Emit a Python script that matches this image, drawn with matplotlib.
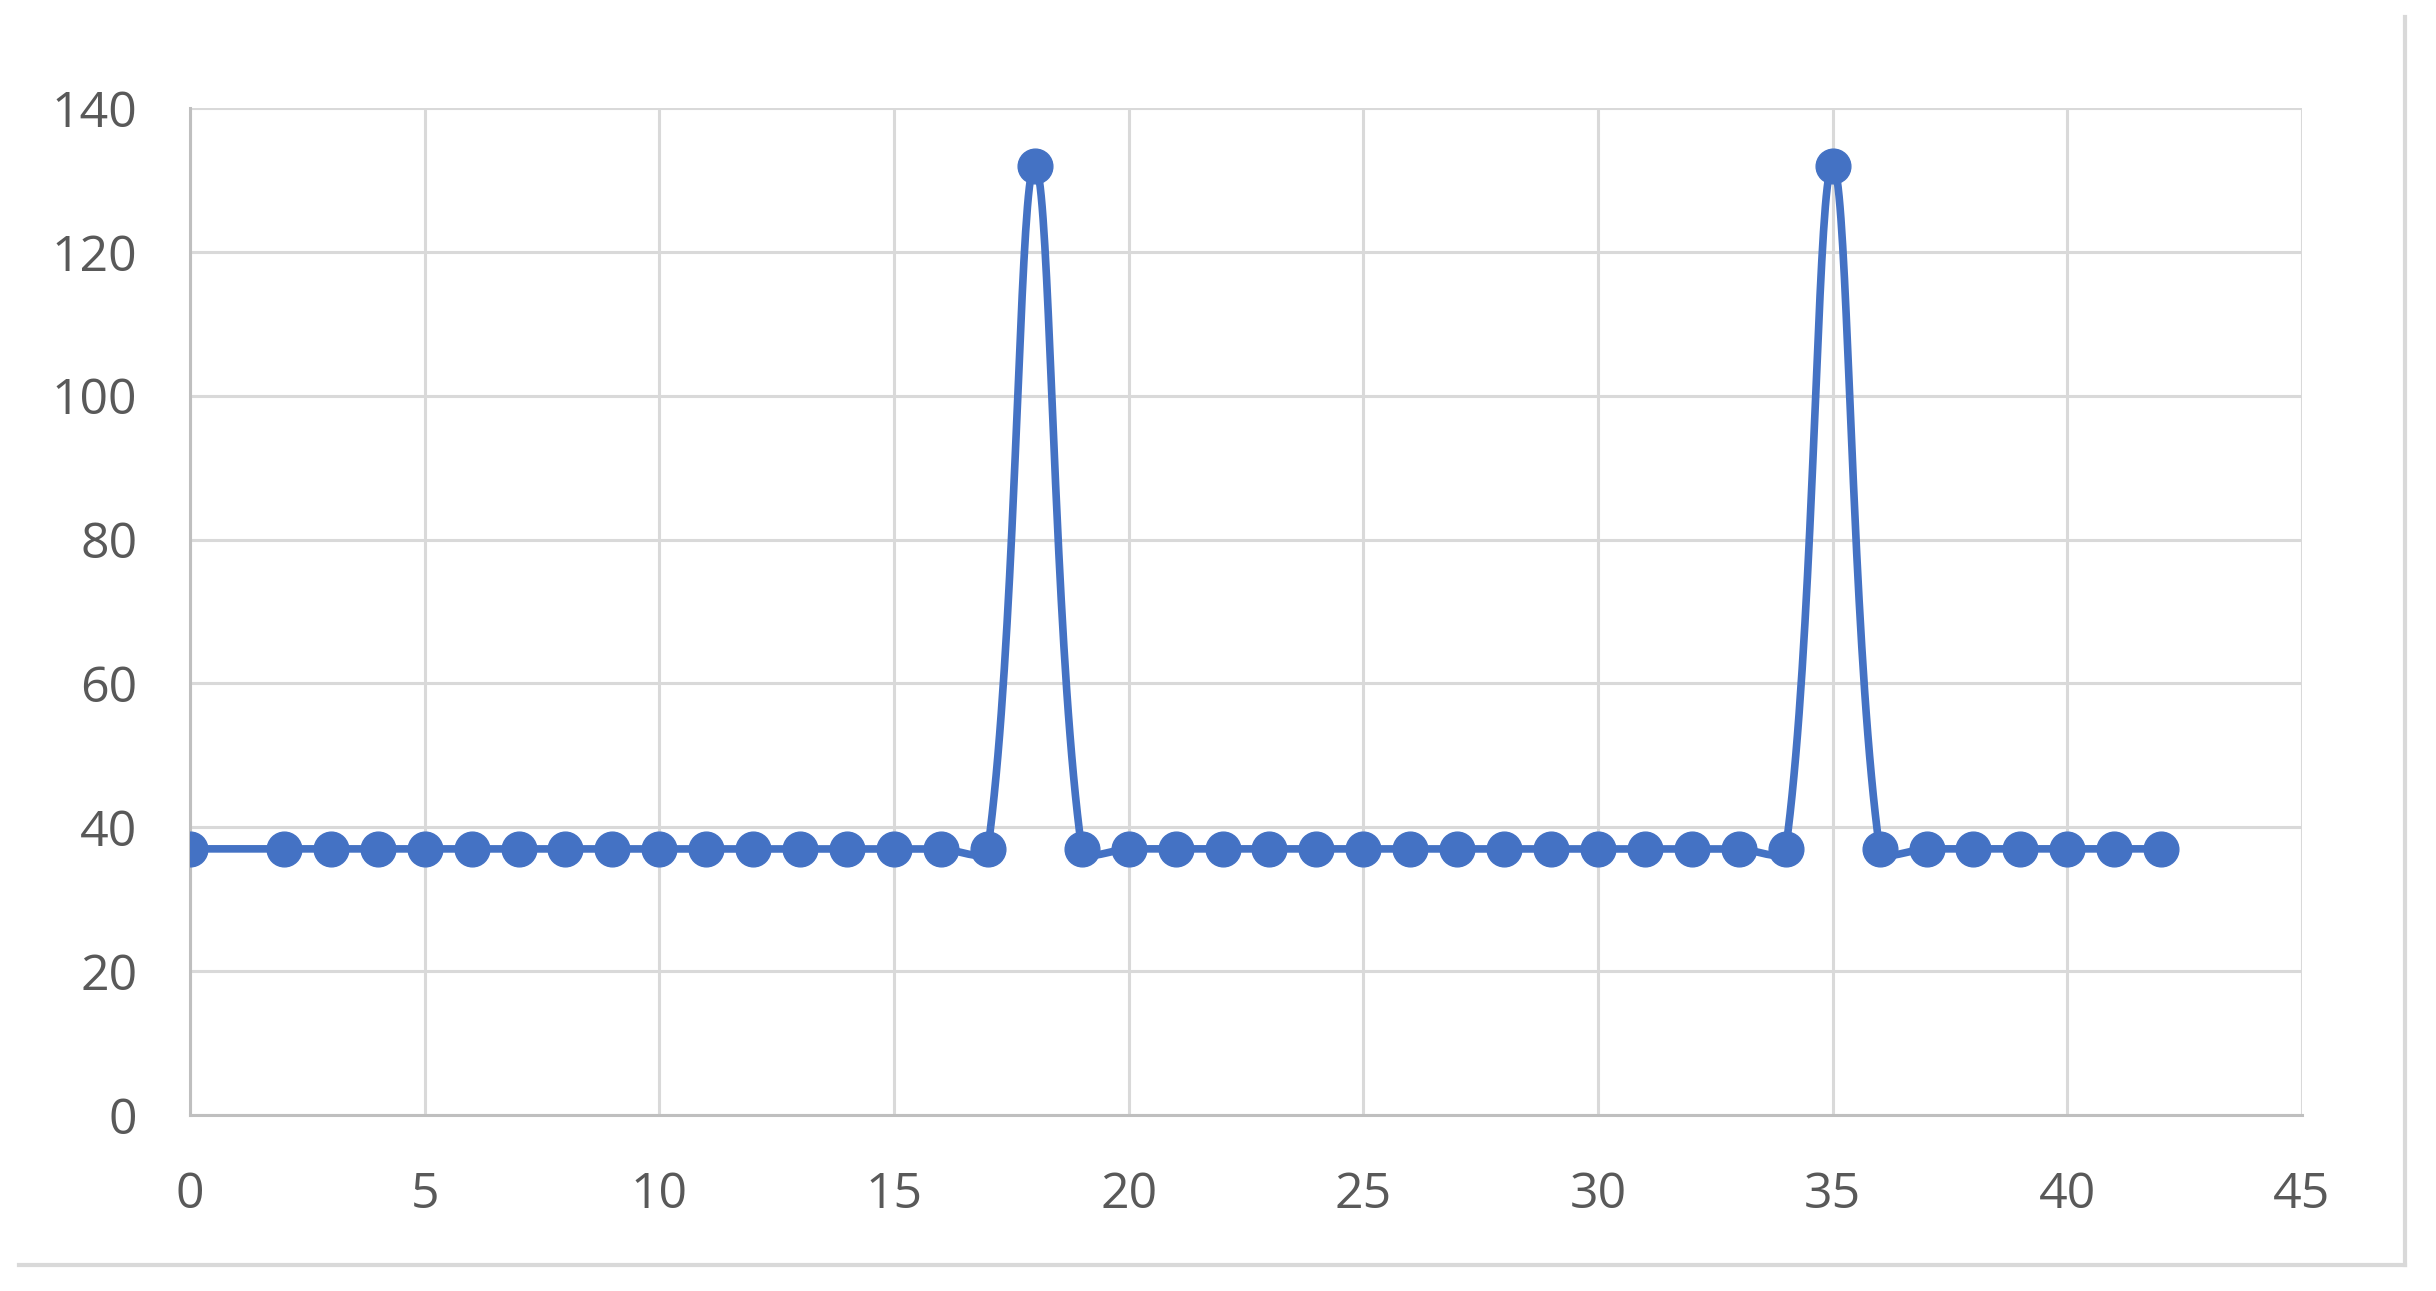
import numpy as np
import matplotlib
matplotlib.use("Agg")
import matplotlib.pyplot as plt
from matplotlib.lines import Line2D

plt.rcParams['font.family'] = ['Open Sans', 'DejaVu Sans']

# data (x = 1 has no point)
x_vals = [0, 2, 3, 4, 5, 6, 7, 8, 9, 10, 11, 12, 13, 14, 15, 16, 17, 18, 19, 20, 21,
          22, 23, 24, 25, 26, 27, 28, 29, 30, 31, 32, 33, 34, 35, 36, 37, 38, 39, 40, 41, 42]
y_vals = [37, 37, 37, 37, 37, 37, 37, 37, 37, 37, 37, 37, 37, 37, 37, 37, 37, 132, 37, 37, 37,
          37, 37, 37, 37, 37, 37, 37, 37, 37, 37, 37, 37, 37, 132, 37, 37, 37, 37, 37, 37, 37]
x_ticks = [0, 5, 10, 15, 20, 25, 30, 35, 40, 45]
y_ticks = [0, 20, 40, 60, 80, 100, 120, 140]

blue = '#4472C4'
grid_col = '#D9D9D9'
text_col = '#595959'

fig = plt.figure(figsize=(24.36, 12.91), dpi=100)
ax = fig.add_axes([190 / 2436, 1 - 1115 / 1291, (2302 - 190) / 2436, (1115 - 108) / 1291])
ax.set_xlim(0, 45)
ax.set_ylim(0, 140)
ax.set_xticks(x_ticks)
ax.set_yticks(y_ticks)
ax.grid(True, color=grid_col, linewidth=2.2)
ax.set_axisbelow(True)
for s in ['top', 'right']:
    ax.spines[s].set_visible(False)
for s in ['left', 'bottom']:
    ax.spines[s].set_color('#BFBFBF')
    ax.spines[s].set_linewidth(2.2)
ax.tick_params(length=0, labelsize=36, labelcolor=text_col)
ax.tick_params(axis='y', pad=38)
ax.tick_params(axis='x', pad=40)


def smooth_path(xs, ys):
    # excel-like smoothed line: bezier segments built in screen space
    pts = ax.transData.transform(np.column_stack([xs, ys]))
    n = len(pts)
    d = np.linalg.norm(np.diff(pts, axis=0), axis=1)
    out = []
    t = np.linspace(0, 1, 40)[:, None]
    for i in range(n - 1):
        p0, p3 = pts[i], pts[i + 1]
        prev = pts[i - 1] if i > 0 else pts[i]
        nxt = pts[i + 2] if i + 2 < n else pts[i + 1]
        dp = d[i - 1] if i > 0 else 0.0
        dn = d[i + 1] if i + 2 < n else 0.0
        c1 = p0 + (p3 - prev) * d[i] / (dp + d[i]) / 3
        c2 = p3 - (nxt - p0) * d[i] / (d[i] + dn) / 3
        seg = ((1 - t) ** 3) * p0 + 3 * ((1 - t) ** 2) * t * c1 + 3 * (1 - t) * t ** 2 * c2 + t ** 3 * p3
        out.append(seg)
    out = np.vstack(out)
    return ax.transData.inverted().transform(out)


curve = smooth_path(x_vals, y_vals)
ax.plot(curve[:, 0], curve[:, 1], color=blue, linewidth=5.5, solid_capstyle='round', zorder=3)
ax.plot(x_vals, y_vals, 'o', color=blue, markersize=25, zorder=4)

# light chart-area border (bottom and right edges visible)
fig.add_artist(Line2D([19 / 2436, 2405 / 2436], [1 - 1265 / 1291, 1 - 1265 / 1291],
                      color=grid_col, linewidth=3))
fig.add_artist(Line2D([2405 / 2436, 2405 / 2436], [1 - 1265 / 1291, 1 - 17 / 1291],
                      color=grid_col, linewidth=3))

fig.savefig('out.png', dpi=100, facecolor='white')
